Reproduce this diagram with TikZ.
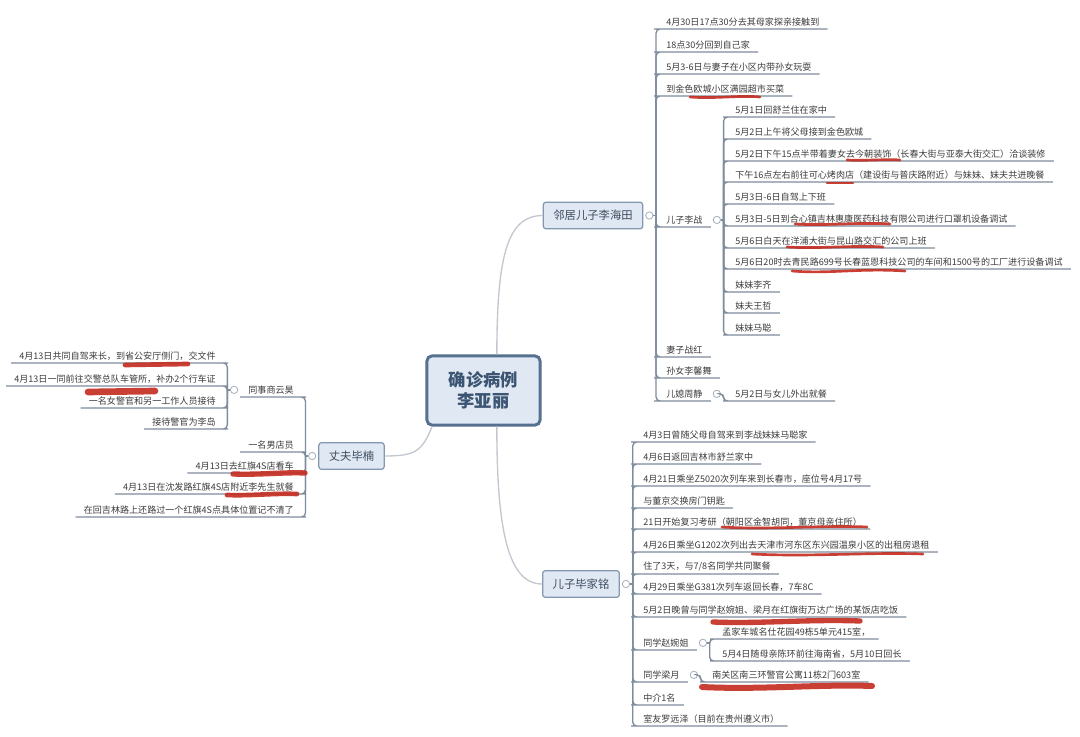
\documentclass[tikz,border=0pt]{standalone}
\usepackage{fontspec}
\usepackage{tikz}
\usepackage{xcolor}
\usetikzlibrary{positioning}

\newfontfamily\cjk{Noto Sans CJK SC}

\definecolor{boxfill}{HTML}{DFE8F3}
\definecolor{rootline}{HTML}{56708F}
\definecolor{roottext}{HTML}{3B5572}
\definecolor{topicline}{HTML}{8498B0}
\definecolor{topictext}{HTML}{3E4C5E}
\definecolor{leaftext}{HTML}{3C3C3C}
\definecolor{connline}{HTML}{7F8C9C}
\definecolor{branchline}{HTML}{C2C8CF}
\definecolor{knobline}{HTML}{A3AEBA}
\definecolor{markred}{HTML}{C42B1F}

\begin{document}
\begin{tikzpicture}[
    x=0.75pt, y=-0.75pt, % one unit = one pixel of the original, y going down
    rootbox/.style={draw=rootline, line width=2.2pt, fill=boxfill, rounded corners=4pt, minimum width=85pt, minimum height=52pt, align=center, text=roottext, font=\cjk\fontsize{13}{15.75}\selectfont\bfseries},
    topicbox/.style={draw=topicline, line width=0.9pt, fill=boxfill, rounded corners=2pt, inner xsep=7.5pt, minimum height=20pt, text=topictext, font=\cjk\fontsize{8.5}{10}\selectfont},
    leaf/.style={anchor=south west, inner xsep=6pt, inner ysep=2pt, text=leaftext, font=\cjk\fontsize{6.8}{8.2}\selectfont},
    leafl/.style={leaf, anchor=south east},
    knob/.style={circle, draw=knobline, fill=white, line width=0.6pt, inner sep=0pt, minimum size=5.5pt},
    branch/.style={draw=branchline, line width=1pt},
    conn/.style={draw=connline, line width=1pt, rounded corners=3pt},
    redmark/.style={draw=markred, line width=2pt, line cap=round, opacity=0.9}
]
\path[fill=white, use as bounding box] (0,0) rectangle (1080,737);

% Centre and main topics
\node[rootbox] (root) at (483.5,390.5) {确诊病例\\李亚丽};
\node[topicbox] (haitian) at (593,215.5) {邻居儿子李海田};
\node[topicbox] (jiaming) at (581,584) {儿子毕家铭};
\node[topicbox] (binan) at (351.5,456) {丈夫毕楠};

\draw[branch] ([xshift=10pt]root.north) .. controls +(0,-100) and +(-35,0) .. (haitian.west);
\draw[branch] ([xshift=10pt]root.south) .. controls +(0,100) and +(-35,0) .. (jiaming.west);
\draw[branch] ([xshift=5pt]root.south west) .. controls +(-10,25) and +(30,0) .. (binan.east);

% Neighbour's son Li Haitian
\node[leaf] (hai0) at (658,29) {4月30日17点30分去其母家探亲接触到};
\node[leaf] (hai1) at (658,52) {18点30分回到自己家};
\node[leaf] (hai2) at (658,74) {5月3-6日与妻子在小区内带孙女玩耍};
\node[leaf] (hai3) at (658,96) {到金色欧城小区满园超市买菜};
\node[leaf] (hai4) at (658,227) {儿子李战};
\node[leaf] (hai5) at (658,357) {妻子战红};
\node[leaf] (hai6) at (658,378) {孙女李馨舞};
\node[leaf] (hai7) at (658,401) {儿媳周静};

\node[knob] (haiK) [right=1.5pt of haitian] {};
\coordinate (haiJ) at ([xshift=2pt]haiK.east);
\draw[conn] (haiK.east) -- (haiJ);
\draw[conn] (haiJ) |- (hai0.south west) -- (hai0.south east);
\draw[conn] (haiJ) |- (hai1.south west) -- (hai1.south east);
\draw[conn] (haiJ) |- (hai2.south west) -- (hai2.south east);
\draw[conn] (haiJ) |- (hai3.south west) -- (hai3.south east);
\draw[conn] (haiJ) |- (hai4.south west) -- (hai4.south east);
\draw[conn] (haiJ) |- (hai5.south west) -- (hai5.south east);
\draw[conn] (haiJ) |- (hai6.south west) -- (hai6.south east);
\draw[conn] (haiJ) |- (hai7.south west) -- (hai7.south east);

% Son Li Zhan
\node[leaf] (zhan0) at (727,117) {5月1日回舒兰住在家中};
\node[leaf] (zhan1) at (727,139) {5月2日上午将父母接到金色欧城};
\node[leaf] (zhan2) at (727,161) {5月2日下午15点半带着妻女去今朝装饰（长春大街与亚泰大街交汇）洽谈装修};
\node[leaf] (zhan3) at (727,182) {下午16点左右前往可心烤肉店（建设街与普庆路附近）与妹妹、妹夫共进晚餐};
\node[leaf] (zhan4) at (727,204) {5月3日-6日自驾上下班};
\node[leaf] (zhan5) at (727,226) {5月3日-5日到合心镇吉林惠康医药科技有限公司进行口罩机设备调试};
\node[leaf] (zhan6) at (727,248) {5月6日白天在洋浦大街与昆山路交汇的公司上班};
\node[leaf] (zhan7) at (727,269) {5月6日20时去青民路699号长春蓝恩科技公司的车间和1500号的工厂进行设备调试};
\node[leaf] (zhan8) at (727,292) {妹妹李齐};
\node[leaf] (zhan9) at (727,313) {妹夫王哲};
\node[leaf] (zhan10) at (727,335) {妹妹马聪};

\node[knob] (zhanK) [right=1.5pt of hai4] {};
\coordinate (zhanJ) at ([xshift=2pt]zhanK.east);
\draw[conn] (zhanK.east) -- (zhanJ);
\draw[conn] (zhanJ) |- (zhan0.south west) -- (zhan0.south east);
\draw[conn] (zhanJ) |- (zhan1.south west) -- (zhan1.south east);
\draw[conn] (zhanJ) |- (zhan2.south west) -- (zhan2.south east);
\draw[conn] (zhanJ) |- (zhan3.south west) -- (zhan3.south east);
\draw[conn] (zhanJ) |- (zhan4.south west) -- (zhan4.south east);
\draw[conn] (zhanJ) |- (zhan5.south west) -- (zhan5.south east);
\draw[conn] (zhanJ) |- (zhan6.south west) -- (zhan6.south east);
\draw[conn] (zhanJ) |- (zhan7.south west) -- (zhan7.south east);
\draw[conn] (zhanJ) |- (zhan8.south west) -- (zhan8.south east);
\draw[conn] (zhanJ) |- (zhan9.south west) -- (zhan9.south east);
\draw[conn] (zhanJ) |- (zhan10.south west) -- (zhan10.south east);

% Daughter-in-law Zhou Jing
\node[leaf] (zhou0) at (727,401) {5月2日与女儿外出就餐};
\node[knob] (zhouK) [right=1.5pt of hai7] {};
\coordinate (zhouJ) at ([xshift=2pt]zhouK.east);
\draw[conn] (zhouK.east) -- (zhouJ) |- (zhou0.south west) -- (zhou0.south east);

% Son Bi Jiaming
\node[leaf] (jia0) at (635,442) {4月3日曾随父母自驾来到李战妹妹马聪家};
\node[leaf] (jia1) at (635,464) {4月6日返回吉林市舒兰家中};
\node[leaf] (jia2) at (635,486) {4月21日乘坐Z5020次列车来到长春市，座位号4月17号};
\node[leaf] (jia3) at (635,508) {与董京交换房门钥匙};
\node[leaf] (jia4) at (635,529) {21日开始复习考研（朝阳区金智胡同，董京母亲住所）};
\node[leaf] (jia5) at (635,552) {4月26日乘坐G1202次列出去天津市河东区东兴园温泉小区的出租房退租};
\node[leaf] (jia6) at (635,574) {住了3天，与7/8名同学共同聚餐};
\node[leaf] (jia7) at (635,594) {4月29日乘坐G381次列车返回长春，7车8C};
\node[leaf] (jia8) at (635,617) {5月2日晚曾与同学赵婉姐、梁月在红旗街万达广场的某饭店吃饭};
\node[leaf] (jia9) at (635,650) {同学赵婉姐};
\node[leaf] (jia10) at (635,682) {同学梁月};
\node[leaf] (jia11) at (635,705) {中介1名};
\node[leaf] (jia12) at (635,726) {室友罗远泽（目前在贵州遵义市）};

\node[knob] (jiaK) [right=1.5pt of jiaming] {};
\coordinate (jiaJ) at ([xshift=2pt]jiaK.east);
\draw[conn] (jiaK.east) -- (jiaJ);
\draw[conn] (jiaJ) |- (jia0.south west) -- (jia0.south east);
\draw[conn] (jiaJ) |- (jia1.south west) -- (jia1.south east);
\draw[conn] (jiaJ) |- (jia2.south west) -- (jia2.south east);
\draw[conn] (jiaJ) |- (jia3.south west) -- (jia3.south east);
\draw[conn] (jiaJ) |- (jia4.south west) -- (jia4.south east);
\draw[conn] (jiaJ) |- (jia5.south west) -- (jia5.south east);
\draw[conn] (jiaJ) |- (jia6.south west) -- (jia6.south east);
\draw[conn] (jiaJ) |- (jia7.south west) -- (jia7.south east);
\draw[conn] (jiaJ) |- (jia8.south west) -- (jia8.south east);
\draw[conn] (jiaJ) |- (jia9.south west) -- (jia9.south east);
\draw[conn] (jiaJ) |- (jia10.south west) -- (jia10.south east);
\draw[conn] (jiaJ) |- (jia11.south west) -- (jia11.south east);
\draw[conn] (jiaJ) |- (jia12.south west) -- (jia12.south east);

% Classmates
\node[leaf] (zhao0) at (714,639) {孟家车城名仕花园49栋5单元415室，};
\node[leaf] (zhao1) at (714,661) {5月4日随母亲陈环前往海南省，5月10日回长};
\node[knob] (zhaoK) [right=1.5pt of jia9] {};
\coordinate (zhaoJ) at ([xshift=2pt]zhaoK.east);
\draw[conn] (zhaoK.east) -- (zhaoJ);
\draw[conn] (zhaoJ) |- (zhao0.south west) -- (zhao0.south east);
\draw[conn] (zhaoJ) |- (zhao1.south west) -- (zhao1.south east);

\node[leaf] (liang0) at (704,682) {南关区南三环警官公寓11栋2门603室};
\node[knob] (liangK) [right=1.5pt of jia10] {};
\coordinate (liangJ) at ([xshift=2pt]liangK.east);
\draw[conn] (liangK.east) -- (liangJ) |- (liang0.south west) -- (liang0.south east);

% Husband Bi Nan (left side)
\node[leafl] (nan0) at (302,397) {同事商云昊};
\node[leafl] (nan1) at (302,452) {一名男店员};
\node[leafl] (nan2) at (302,473) {4月13日去红旗4S店看车};
\node[leafl] (nan3) at (302,494) {4月13日在沈发路红旗4S店附近李先生就餐};
\node[leafl] (nan4) at (302,517) {在回吉林路上还路过一个红旗4S点具体位置记不清了};

\node[knob] (nanK) [left=1.5pt of binan] {};
\coordinate (nanJ) at ([xshift=-2pt]nanK.west);
\draw[conn] (nanK.west) -- (nanJ);
\draw[conn] (nanJ) |- (nan0.south east) -- (nan0.south west);
\draw[conn] (nanJ) |- (nan1.south east) -- (nan1.south west);
\draw[conn] (nanJ) |- (nan2.south east) -- (nan2.south west);
\draw[conn] (nanJ) |- (nan3.south east) -- (nan3.south west);
\draw[conn] (nanJ) |- (nan4.south east) -- (nan4.south west);

% Colleague Shang Yunhao
\node[leafl] (shang0) at (224,363) {4月13日共同自驾来长，到省公安厅侧门，交文件};
\node[leafl] (shang1) at (224,386) {4月13日一同前往交警总队车管所，补办2个行车证};
\node[leafl] (shang2) at (224,408) {一名女警官和另一工作人员接待};
\node[leafl] (shang3) at (224,429) {接待警官为李岛};

\node[knob] (shangK) [left=1.5pt of nan0] {};
\coordinate (shangJ) at ([xshift=-2pt]shangK.west);
\draw[conn] (shangK.west) -- (shangJ);
\draw[conn] (shangJ) |- (shang0.south east) -- (shang0.south west);
\draw[conn] (shangJ) |- (shang1.south east) -- (shang1.south west);
\draw[conn] (shangJ) |- (shang2.south east) -- (shang2.south west);
\draw[conn] (shangJ) |- (shang3.south east) -- (shang3.south west);

% Red pen marks
\draw[redmark] (690,97) .. controls (715,99) and (740,95) .. (760,97);
\draw[redmark] (847,160) .. controls (865,161) and (885,159) .. (900,160);
\draw[redmark] (827,183) -- (853,183);
\draw[redmark] (795,224) .. controls (825,226) and (860,222) .. (890,224);
\draw[redmark] (787,247) .. controls (820,249) and (855,245) .. (883,247);
\draw[redmark] (792,271) .. controls (830,274) and (860,268) .. (905,271);
\draw[redmark] (722,527) .. controls (770,530) and (820,525) .. (867,527);
\draw[redmark] (752,554) .. controls (810,557) and (870,552) .. (923,554);
\draw[redmark, line width=4pt] (713,622) .. controls (760,624) and (810,619) .. (860,621);
\draw[redmark, line width=4.5pt] (702,687) .. controls (760,690) and (820,684) .. (872,686);
\draw[redmark, line width=3.5pt] (125,365) -- (188,364);
\draw[redmark, line width=5pt] (88,392) -- (155,391);
\draw[redmark, line width=4pt] (233,474) .. controls (260,475) and (285,472) .. (305,473);
\draw[redmark, line width=3.5pt] (227,495) .. controls (250,496) and (275,493) .. (297,494);

\end{tikzpicture}
\end{document}
